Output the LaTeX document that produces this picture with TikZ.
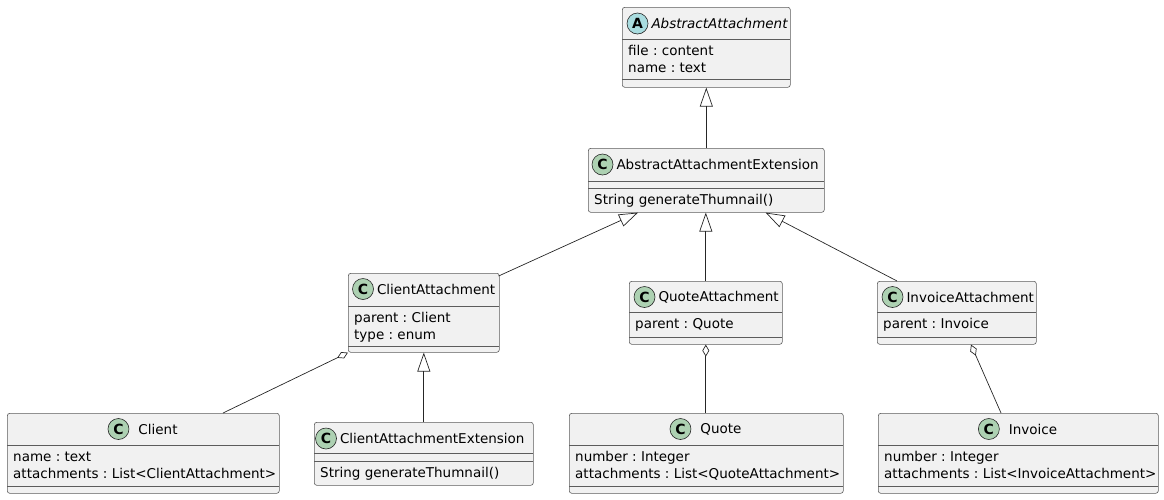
\documentclass[tikz,border=0pt]{standalone}
\usepackage{fontspec}
\setmainfont{DejaVu Sans}
\usetikzlibrary{arrows.meta,positioning,calc}
\frenchspacing
\definecolor{boxfill}{HTML}{F1F1F1}
\definecolor{boxline}{HTML}{5C5C5C}
\definecolor{iconC}{HTML}{ADD1B2}
\definecolor{iconA}{HTML}{A9DCDF}
\tikzset{
  classbox/.style={draw=boxline, fill=boxfill, rounded corners=2.5pt, line width=0.6pt, inner sep=0pt, anchor=north west},
  sepline/.style={draw=boxline, line width=0.6pt},
  icon/.style={circle, draw=black!85, line width=0.6pt, minimum size=21pt, inner sep=0pt, font=\fontsize{14}{14}\selectfont\bfseries},
  cname/.style={inner sep=0pt, font=\fontsize{13.5}{16}\selectfont},
  aname/.style={inner sep=0pt, font=\fontsize{13.5}{16}\selectfont\itshape},
  member/.style={inner sep=0pt, anchor=base west, font=\fontsize{13.5}{16}\selectfont},
  extends/.style={draw=black!85, line width=0.7pt, -{Triangle[open, length=19pt, width=13pt]}},
  aggr/.style={draw=black!85, line width=0.7pt, {Diamond[open, length=12pt, width=7pt]}-}
}
\begin{document}
\begin{tikzpicture}[x=1pt,y=-1pt]
\useasboundingbox (0,0) rectangle (1164,499);
\node[classbox, minimum width=168pt, minimum height=80pt] (abs) at (622,7) {};
\node[icon, fill=iconA] (absI) at (637.5,23.5) {A}; \node[aname, right=3pt of absI] (absN) {AbstractAttachment};
\draw[sepline] (622,39) -- (790,39) (622,79) -- (790,79);
\node[member] (absM1) at (628,55.5) {file : content}; \node[member] (absM2) at (628,72) {name : text};

\node[classbox, minimum width=236pt, minimum height=64pt] (aae) at (588,148) {};
\node[icon, fill=iconC] (aaeI) at (602.5,164.5) {C}; \node[cname, right=3pt of aaeI] (aaeN) {AbstractAttachmentExtension};
\draw[sepline] (588,181) -- (824,181) (588,188) -- (824,188);
\node[member] (aaeM1) at (594,204.5) {String generateThumnail()};

\node[classbox, minimum width=151pt, minimum height=79pt] (cla) at (348,273) {};
\node[icon, fill=iconC] (claI) at (363,289) {C}; \node[cname, right=3pt of claI] (claN) {ClientAttachment};
\draw[sepline] (348,306) -- (499,306) (348,346) -- (499,346);
\node[member] (claM1) at (354,322.5) {parent : Client}; \node[member] (claM2) at (354,339) {type : enum};

\node[classbox, minimum width=153pt, minimum height=63pt] (qa) at (629,281) {};
\node[icon, fill=iconC] (qaI) at (644.5,297) {C}; \node[cname, right=3pt of qaI] (qaN) {QuoteAttachment};
\draw[sepline] (629,312) -- (782,312) (629,337) -- (782,337);
\node[member] (qaM1) at (635,328.5) {parent : Quote};

\node[classbox, minimum width=159pt, minimum height=63pt] (ia) at (877,281) {};
\node[icon, fill=iconC] (iaI) at (892.5,297) {C}; \node[cname, right=3pt of iaI] (iaN) {InvoiceAttachment};
\draw[sepline] (877,312) -- (1036,312) (877,337) -- (1036,337);
\node[member] (iaM1) at (883,328.5) {parent : Invoice};

\node[classbox, minimum width=272pt, minimum height=80pt] (client) at (7,413) {};
\node[cname] (clientN) at (158,429) {Client}; \node[icon, fill=iconC, left=9pt of clientN] (clientI) {C};
\draw[sepline] (7,445) -- (279,445) (7,486) -- (279,486);
\node[member] (clientM1) at (13,461.5) {name : text}; \node[member] (clientM2) at (13,478) {attachments : List<ClientAttachment>};

\node[classbox, minimum width=219pt, minimum height=63pt] (cae) at (314,422) {};
\node[icon, fill=iconC] (caeI) at (326,438.5) {C}; \node[cname, right=3pt of caeI] (caeN) {ClientAttachmentExtension};
\draw[sepline] (314,453) -- (533,453) (314,461) -- (533,461);
\node[member] (caeM1) at (320,477.5) {String generateThumnail()};

\node[classbox, minimum width=274pt, minimum height=80pt] (quote) at (569,413) {};
\node[cname] (quoteN) at (721,429) {Quote}; \node[icon, fill=iconC, left=9pt of quoteN] (quoteI) {C};
\draw[sepline] (569,445) -- (843,445) (569,486) -- (843,486);
\node[member] (quoteM1) at (575,461.5) {number : Integer}; \node[member] (quoteM2) at (575,478) {attachments : List<QuoteAttachment>};

\node[classbox, minimum width=280pt, minimum height=80pt] (invoice) at (878,413) {};
\node[cname] (invoiceN) at (1033,429) {Invoice}; \node[icon, fill=iconC, left=9pt of invoiceN] (invoiceI) {C};
\draw[sepline] (878,445) -- (1158,445) (878,486) -- (1158,486);
\node[member] (invoiceM1) at (884,461.5) {number : Integer}; \node[member] (invoiceM2) at (884,478) {attachments : List<InvoiceAttachment>};

\draw[extends] (aae.north) -- (abs.south);
\draw[extends] ($(cla.north east)+(-1,3)$) -- ($(aae.south west)+(50,0)$);
\draw[extends] (qa.north) -- (qa.north |- aae.south);
\draw[extends] ($(ia.north west)+(20,0)$) -- ($(aae.south east)+(-59,0)$);
\draw[extends] (cae.north) -- (cae.north |- cla.south);
\draw[aggr] (cla.south west) -- ($(client.north west)+(216,0)$);
\draw[aggr] (qa.south) -- (qa.south |- quote.north);
\draw[aggr] ($(ia.south west)+(94,0)$) -- ($(invoice.north west)+(123,0)$);
\end{tikzpicture}
\end{document}
